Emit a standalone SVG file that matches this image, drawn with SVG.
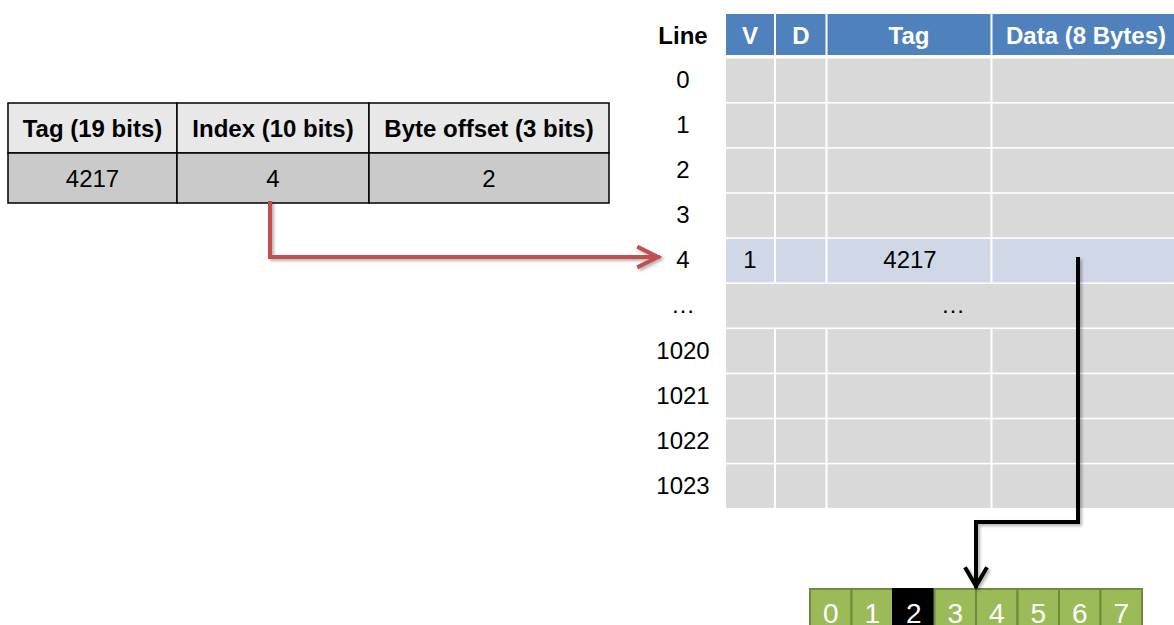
<svg xmlns="http://www.w3.org/2000/svg" width="1174" height="625" viewBox="0 0 1174 625">
<style>
text{font-family:"Liberation Sans",Arial,sans-serif;text-anchor:middle}
.b{font-weight:bold}
.t{font-size:24px;fill:#000}
.h{font-size:24px;fill:#fff;font-weight:bold}
.row{fill:#d9d9d9}
.sel{fill:#d0d8e8}
.vl{stroke:#fff;stroke-width:2}
.cell{stroke:#000;stroke-width:1.5}
.byte{fill:#9bbb59;stroke:#71893f;stroke-width:2}
.bt{font-size:28px;fill:#fff}
</style>
<defs>
<filter id="sh" x="-10%" y="-10%" width="120%" height="120%">
<feDropShadow dx="2" dy="2" stdDeviation="1.5" flood-color="#000" flood-opacity="0.3"/>
</filter>
</defs>

<g id="address">
<rect x="8" y="103" width="169" height="50" fill="#e8e8e8" class="cell"/>
<rect x="177" y="103" width="192" height="50" fill="#e8e8e8" class="cell"/>
<rect x="369" y="103" width="240" height="50" fill="#e8e8e8" class="cell"/>
<rect x="8" y="153" width="169" height="50" fill="#cacaca" class="cell"/>
<rect x="177" y="153" width="192" height="50" fill="#cacaca" class="cell"/>
<rect x="369" y="153" width="240" height="50" fill="#cacaca" class="cell"/>
<text x="92.5" y="137" class="t b">Tag (19 bits)</text>
<text x="273" y="137" class="t b">Index (10 bits)</text>
<text x="489" y="137" class="t b">Byte offset (3 bits)</text>
<text x="92.5" y="187" class="t">4217</text>
<text x="273" y="187" class="t">4</text>
<text x="489" y="187" class="t">2</text>
</g>

<g id="cache">
<text x="683" y="44" class="t b">Line</text>
<rect x="726" y="14" width="454" height="41" fill="#4f81bd"/>
<line x1="775" y1="14" x2="775" y2="55" class="vl"/>
<line x1="826.5" y1="14" x2="826.5" y2="55" class="vl"/>
<line x1="991.5" y1="14" x2="991.5" y2="55" class="vl"/>
<text x="750" y="44" class="h">V</text>
<text x="801" y="44" class="h">D</text>
<text x="909" y="44" class="h">Tag</text>
<text x="1086" y="44" class="h">Data (8 Bytes)</text>

<rect x="726" y="58.5" width="454" height="43.5" class="row"/>
<rect x="726" y="103.6" width="454" height="43.5" class="row"/>
<rect x="726" y="148.7" width="454" height="43.5" class="row"/>
<rect x="726" y="193.8" width="454" height="43.5" class="row"/>
<rect x="726" y="238.9" width="454" height="43.5" class="sel"/>
<rect x="726" y="284" width="454" height="43.5" class="row"/>
<rect x="726" y="329.1" width="454" height="43.5" class="row"/>
<rect x="726" y="374.2" width="454" height="43.5" class="row"/>
<rect x="726" y="419.3" width="454" height="43.5" class="row"/>
<rect x="726" y="464.4" width="454" height="43.5" class="row"/>
<g class="vl">
<line x1="775" y1="58.5" x2="775" y2="282.4"/>
<line x1="826.5" y1="58.5" x2="826.5" y2="282.4"/>
<line x1="991.5" y1="58.5" x2="991.5" y2="282.4"/>
<line x1="775" y1="329.1" x2="775" y2="508"/>
<line x1="826.5" y1="329.1" x2="826.5" y2="508"/>
<line x1="991.5" y1="329.1" x2="991.5" y2="508"/>
</g>
<text x="683" y="88" class="t">0</text>
<text x="683" y="133" class="t">1</text>
<text x="683" y="178" class="t">2</text>
<text x="683" y="223" class="t">3</text>
<text x="683" y="268" class="t">4</text>
<text x="683" y="313" class="t">…</text>
<text x="683" y="359" class="t">1020</text>
<text x="683" y="404" class="t">1021</text>
<text x="683" y="449" class="t">1022</text>
<text x="683" y="494" class="t">1023</text>
<text x="750" y="268" class="t">1</text>
<text x="910" y="268" class="t">4217</text>
<text x="953" y="313" class="t">…</text>
</g>

<g id="bytes">
<rect x="810" y="589" width="41.5" height="40" class="byte"/>
<rect x="851.5" y="589" width="41.5" height="40" class="byte"/>
<rect x="893" y="589" width="41.5" height="40" fill="#000" stroke="#000" stroke-width="2"/>
<rect x="934.5" y="589" width="41.5" height="40" class="byte"/>
<rect x="976" y="589" width="41.5" height="40" class="byte"/>
<rect x="1017.5" y="589" width="41.5" height="40" class="byte"/>
<rect x="1059" y="589" width="41.5" height="40" class="byte"/>
<rect x="1100.5" y="589" width="41.5" height="40" class="byte"/>
<text x="830.75" y="623" class="bt">0</text>
<text x="872.25" y="623" class="bt">1</text>
<text x="913.75" y="623" class="bt">2</text>
<text x="955.25" y="623" class="bt">3</text>
<text x="996.75" y="623" class="bt">4</text>
<text x="1038.25" y="623" class="bt">5</text>
<text x="1079.75" y="623" class="bt">6</text>
<text x="1121.25" y="623" class="bt">7</text>
</g>

<g id="connectors" fill="none" stroke-linecap="square" stroke-linejoin="miter">
<g filter="url(#sh)" stroke="#c0504d" stroke-width="4">
<polyline points="270,203 270,257 658,257"/>
<polyline points="639,247.5 658,257 639,266.5"/>
</g>
<g filter="url(#sh)" stroke="#000" stroke-width="4">
<polyline points="1078,259 1078,522 976,522 976,586"/>
<polyline points="966,569 976,586 986,569"/>
</g>
</g>
</svg>
